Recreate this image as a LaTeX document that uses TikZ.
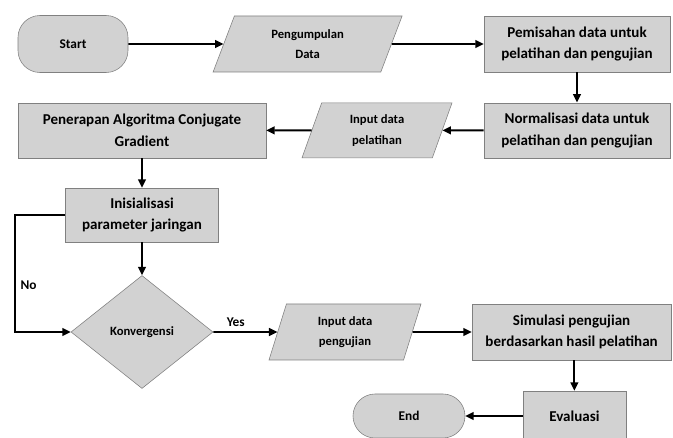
\documentclass[tikz,border=0pt]{standalone}
\usepackage{fontspec}
\setmainfont{Carlito}
\usetikzlibrary{shapes.geometric,arrows.meta}

\definecolor{boxfill}{RGB}{210,210,210}
\definecolor{boxline}{RGB}{128,128,128}

\begin{document}
\begin{tikzpicture}[
  process/.style={draw=boxline, fill=boxfill, rectangle, align=center, inner sep=1pt,
    font=\bfseries\fontsize{10.7}{15.5}\selectfont},
  dataio/.style={draw=boxline, fill=boxfill, trapezium, trapezium left angle=60,
    trapezium right angle=120, trapezium stretches body, align=center, inner sep=1pt,
    font=\bfseries\fontsize{9}{14.5}\selectfont},
  terminal/.style={draw=boxline, fill=boxfill, rectangle, rounded corners=0.55cm,
    align=center, font=\bfseries\fontsize{9.5}{12}\selectfont},
  decision/.style={draw=boxline, fill=boxfill, diamond, inner sep=0pt,
    font=\bfseries\fontsize{9}{12}\selectfont},
  flow/.style={line width=1.3pt, -{Triangle[length=6pt,width=5.5pt]}},
  lbl/.style={font=\bfseries\fontsize{9.5}{11}\selectfont}
]
\useasboundingbox (0,0) rectangle (16.825,-10.95);

% Row 1
\node[terminal, minimum width=2.75cm, minimum height=1.425cm] (start) at (1.825,-1.1) {Start};
\node[dataio, trapezium left angle=56.5, trapezium right angle=123.5,
      minimum width=4.725cm, minimum height=1.4cm] (kumpul) at (7.69,-1.1) {Pengumpulan\\Data};
\node[process, minimum width=4.65cm, minimum height=1.4cm] (pisah) at (14.425,-1.1)
  {Pemisahan data untuk\\pelatihan dan pengujian};

% Row 2
\node[process, minimum width=4.65cm, minimum height=1.375cm] (norm) at (14.425,-3.26)
  {Normalisasi data untuk\\pelatihan dan pengujian};
\node[dataio, minimum width=3.75cm, minimum height=1.375cm] (inlatih) at (9.425,-3.26)
  {Input data\\pelatihan};
\node[process, minimum width=6.2cm, minimum height=1.375cm] (terap) at (3.55,-3.26)
  {Penerapan Algoritma Conjugate\\Gradient};

% Left column
\node[process, minimum width=3.825cm, minimum height=1.35cm] (init) at (3.55,-5.375)
  {Inisialisasi\\parameter jaringan};
\node[decision, minimum width=3.55cm, minimum height=2.825cm] (konv) at (3.55,-8.3)
  {Konvergensi};
\coordinate (loop) at (0.375,-5.375);

% Row 4
\node[dataio, trapezium left angle=63, trapezium right angle=117,
      minimum width=3.8cm, minimum height=1.4cm] (inuji) at (8.625,-8.3) {Input data\\pengujian};
\node[process, minimum width=4.975cm, minimum height=1.4cm] (simul) at (14.29,-8.3)
  {Simulasi pengujian\\berdasarkan hasil pelatihan};

% Bottom
\node[process, minimum width=2.575cm, minimum height=1.25cm] (eval) at (14.36,-10.4) {Evaluasi};
\node[terminal, minimum width=2.8cm, minimum height=1.1cm] (finish) at (10.225,-10.4) {End};

% Connectors
\draw[flow] (start) -- (kumpul);
\draw[flow] (kumpul) -- (pisah);
\draw[flow] (pisah) -- (norm);
\draw[flow] (norm) -- (inlatih);
\draw[flow] (inlatih) -- (terap);
\draw[flow] (terap) -- (init);
\draw[flow] (init) -- (konv);
\draw[flow] (init.west) -- (loop) |- (konv.west) node[lbl, pos=0.3, right] {No};
\draw[flow] (konv) -- (inuji) node[lbl, pos=0.35, above] {Yes};
\draw[flow] (inuji) -- (simul);
\draw[flow] (simul.south -| eval.north) -- (eval);
\draw[flow] (eval) -- (finish);

\end{tikzpicture}
\end{document}
